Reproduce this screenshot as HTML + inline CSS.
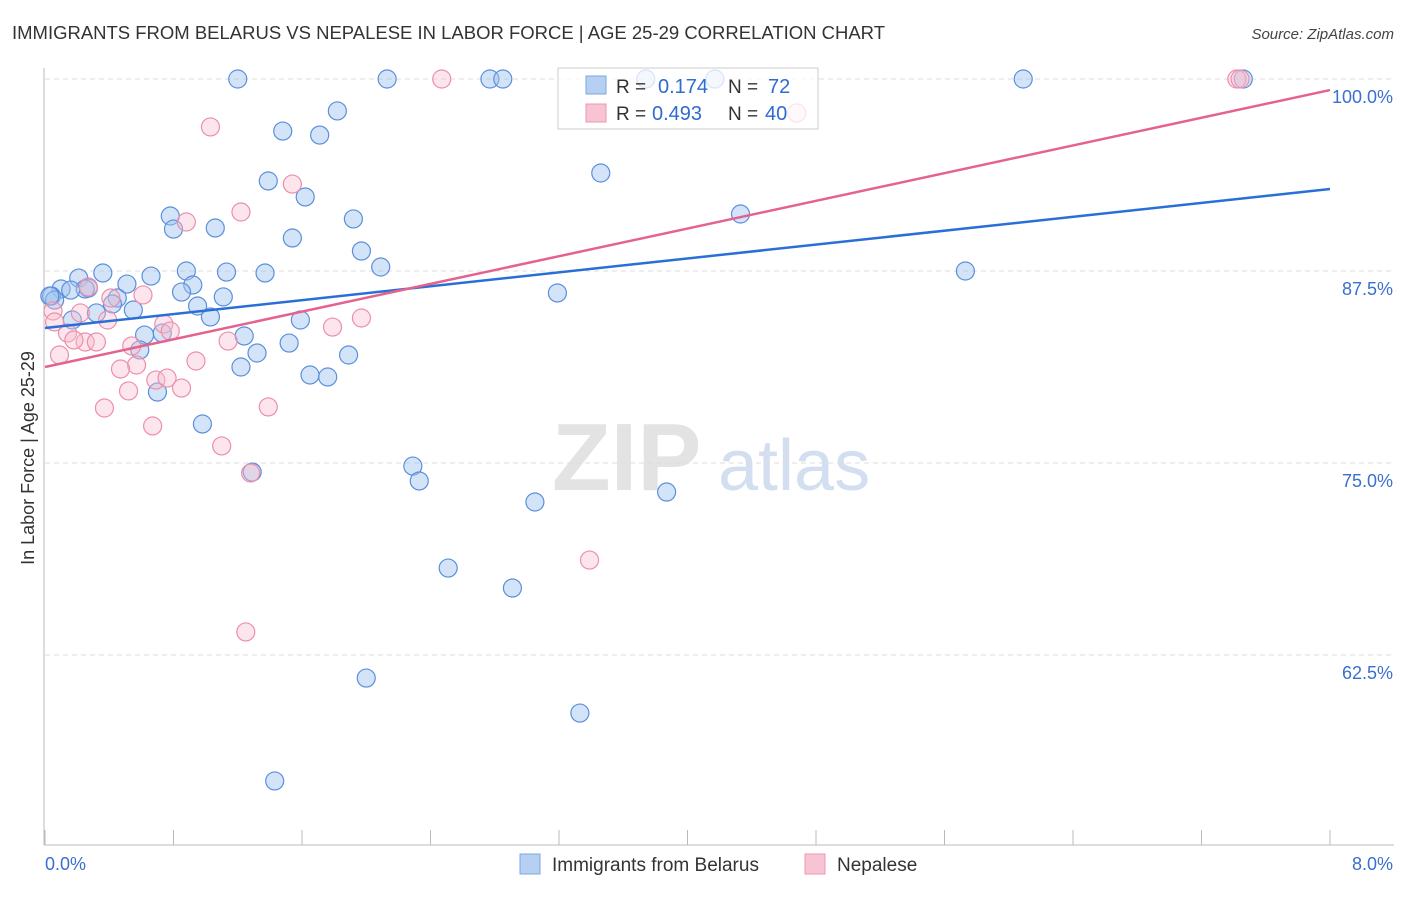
<!DOCTYPE html>
<html><head><meta charset="utf-8"><style>
body{margin:0;background:#fff;font-family:"Liberation Sans",sans-serif;}
svg text{font-family:"Liberation Sans",sans-serif;}
</style></head><body>
<svg id="chart" width="1406" height="892" xmlns="http://www.w3.org/2000/svg">
<text x="12" y="39" font-size="18" fill="#333" textLength="873" lengthAdjust="spacingAndGlyphs">IMMIGRANTS FROM BELARUS VS NEPALESE IN LABOR FORCE | AGE 25-29 CORRELATION CHART</text>
<text x="1394" y="39" font-size="15" fill="#444" font-style="italic" text-anchor="end">Source: ZipAtlas.com</text>
<text x="552" y="490" font-size="96" fill="#ddd" font-family="Liberation Serif" font-weight="bold" opacity="0.8">ZIP</text>
<text x="718" y="490" font-size="72" fill="#c9d8ee" opacity="0.8">atlas</text>
<g id="grid"></g>
<g id="marks"></g>
<text transform="translate(34,458) rotate(-90)" font-size="18" fill="#333" text-anchor="middle">In Labor Force | Age 25-29</text>
<g>
<rect x="558" y="68" width="260" height="61" fill="#fff" fill-opacity="0.75" stroke="#ccc"/>
<rect x="586" y="76" width="20" height="18" fill="#b6d0f3" stroke="#7fa6dc"/>
<rect x="586" y="104" width="20" height="18" fill="#f8c4d3" stroke="#e79ab2"/>
<text x="616" y="93" font-size="19" fill="#333">R =</text>
<text x="658" y="93" font-size="20" fill="#2f6bd1">0.174</text>
<text x="728" y="93" font-size="19" fill="#333">N =</text>
<text x="768" y="93" font-size="20" fill="#2f6bd1">72</text>
<text x="616" y="120" font-size="19" fill="#333">R =</text>
<text x="652" y="120" font-size="20" fill="#2f6bd1">0.493</text>
<text x="728" y="120" font-size="19" fill="#333">N =</text>
<text x="765" y="120" font-size="20" fill="#2f6bd1">40</text>
</g>
<g>
<rect x="520" y="854" width="20" height="20" fill="#b6d0f3" stroke="#7fa6dc"/>
<text x="552" y="871" font-size="19" fill="#333">Immigrants from Belarus</text>
<rect x="805" y="854" width="20" height="20" fill="#f8c4d3" stroke="#e79ab2"/>
<text x="837" y="871" font-size="19" fill="#333">Nepalese</text>
</g>
</svg>
<script>
const yTicks=[100,87.5,75,62.5];
const yTickLabels=["100.0%","87.5%","75.0%","62.5%"];
const xTickLabels=["0.0%","8.0%"];
const belarusX=[1.20,2.13,2.77,2.85,3.74,4.17,6.09,7.46,1.82,1.48,1.71,3.46,1.39,1.62,0.78,1.92,4.33,0.80,1.06,1.54,1.97,2.09,0.88,1.13,1.37,0.36,0.21,0.66,5.73,0.51,0.92,0.10,0.27,0.85,3.19,0.04,1.11,0.45,0.95,0.42,0.55,0.32,1.03,0.17,1.59,0.62,0.73,1.24,1.52,0.59,1.89,1.32,1.22,1.65,1.76,0.70,0.98,2.29,2.33,3.87,3.05,1.29,2.51,2.91,2.00,3.33,1.43,0.06,0.03,0.25,0.16];
const belarusY=[100,100,100,100,100,100,100,100,97.92,96.61,96.35,93.88,93.36,92.32,91.08,90.89,91.21,90.23,90.30,89.65,88.80,87.76,87.50,87.43,87.37,87.37,87.04,87.17,87.50,86.65,86.59,86.33,86.39,86.13,86.07,85.87,85.81,85.74,85.22,85.35,84.96,84.77,84.51,84.31,84.31,83.33,83.46,83.27,82.81,82.36,82.03,82.16,81.25,80.73,80.60,79.62,77.54,74.80,73.83,73.11,72.46,74.41,68.16,66.86,61.00,58.72,54.30,85.61,85.87,86.33,86.26];
const nepalX=[2.47,7.42,7.44,4.68,1.03,1.54,1.22,0.88,0.61,0.27,0.41,0.05,0.22,0.39,0.06,0.74,0.78,1.79,1.97,0.14,0.25,0.32,0.18,1.14,0.09,0.54,0.57,0.94,0.47,0.69,0.76,0.85,0.52,0.37,1.39,0.67,1.10,1.28,3.39,1.25];
const nepalY=[100,100,100,97.79,96.88,93.16,91.34,90.69,85.94,86.46,85.74,84.90,84.77,84.31,84.18,84.05,83.59,83.85,84.44,83.46,82.88,82.88,83.01,82.94,82.03,82.62,81.38,81.64,81.12,80.40,80.53,79.88,79.69,78.58,78.65,77.41,76.11,74.35,68.68,64.00];
const belarusTrend=[83.79,92.84];
const nepalTrend=[81.25,99.28];
const NS="http://www.w3.org/2000/svg";
const X=v=>45+v/8*1285;
const Y=v=>79+(100-v)*15.36;
function mk(tag,a,parent){const e=document.createElementNS(NS,tag);for(const k in a)e.setAttribute(k,a[k]);parent.appendChild(e);return e;}
const grid=document.getElementById('grid');
const marks=document.getElementById('marks');
let ax=mk('line',{x1:44,y1:68,x2:44,y2:845,stroke:'#bbb'},grid);


let bx=mk('line',{x1:44,y1:845,x2:1394,y2:845,stroke:'#bbb'},grid);


for(let i=0;i<=10;i++){let t=mk('line',{x1:X(i*0.8),y1:830,x2:X(i*0.8),y2:845,stroke:'#bbb'},grid);

}
yTicks.forEach((v,i)=>{let g=mk('line',{x1:45,y1:Y(v),x2:1394,y2:Y(v),stroke:'#ddd','stroke-dasharray':'5,4'},grid);


let t=mk('text',{x:1393,y:Y(v)+24,'font-size':18,fill:'#3a6fd0','text-anchor':'end'},grid);t.textContent=yTickLabels[i];

});
[[0,'start'],[8,'end']].forEach((p,i)=>{let t=mk('text',{x:i?1393:45,y:870,'font-size':18,fill:'#3a6fd0','text-anchor':p[1]},grid);t.textContent=xTickLabels[i];

});
belarusX.forEach((x,i)=>{let c=mk('circle',{cx:X(x),cy:Y(belarusY[i]),r:9,fill:'rgba(160,195,240,0.45)',stroke:'#5b8fdc','stroke-width':1.2},marks);

});
nepalX.forEach((x,i)=>{let c=mk('circle',{cx:X(x),cy:Y(nepalY[i]),r:9,fill:'rgba(248,190,208,0.4)',stroke:'#ec8fab','stroke-width':1.2},marks);

});
let l1=mk('line',{x1:X(0),y1:Y(belarusTrend[0]),x2:X(8),y2:Y(belarusTrend[1]),stroke:'#2a6fd6','stroke-width':2.5},marks);


let l2=mk('line',{x1:X(0),y1:Y(nepalTrend[0]),x2:X(8),y2:Y(nepalTrend[1]),stroke:'#e5628e','stroke-width':2.5},marks);


</script>
</body></html>
